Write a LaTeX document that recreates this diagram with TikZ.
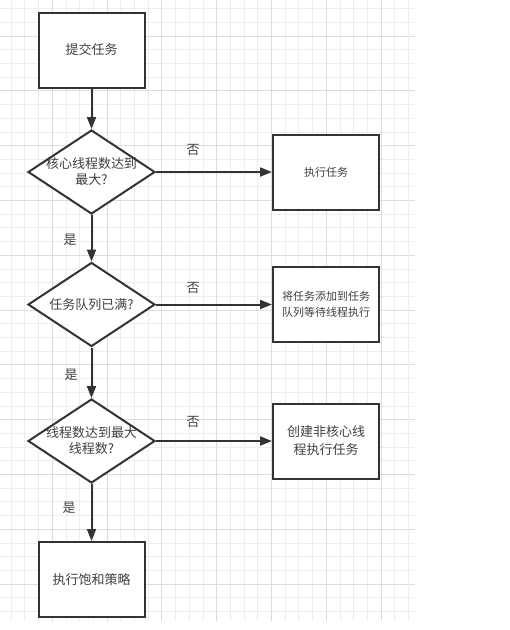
\documentclass[tikz,border=0pt]{standalone}
\usepackage{fontspec}
\setmainfont{Noto Sans CJK SC}
\usepackage{xcolor}
\usetikzlibrary{positioning,arrows.meta,shapes.geometric}
\definecolor{gridminor}{HTML}{EDEDED}
\definecolor{gridmajor}{HTML}{DCDCDC}
\definecolor{ink}{HTML}{333333}
\definecolor{inktext}{HTML}{404040}

\begin{document}
\begin{tikzpicture}[
    x=1pt, y=-1pt,
    >={Triangle[length=12pt, width=9pt]},
    box/.style={draw=ink, line width=2pt, fill=white, align=center, text=inktext,
                font=\fontsize{13}{17}\selectfont, minimum width=106pt, minimum height=75pt},
    smallbox/.style={box, font=\fontsize{11}{16}\selectfont},
    cond/.style={diamond, draw=ink, line width=2pt, fill=white, align=center, text=inktext,
                 font=\fontsize{13}{16}\selectfont, minimum width=127pt, minimum height=84pt,
                 inner xsep=-14pt, inner ysep=-8pt},
    lbl/.style={font=\fontsize{13}{15}\selectfont, text=inktext},
    flow/.style={->, draw=ink, line width=2pt},
  ]
  \useasboundingbox (0,0) rectangle (510,630);
  % fondo de cuadricula
  \foreach \i in {0,...,30} \draw[gridminor, line width=0.8pt] ({-2.6+13.7*\i},0) -- ++(0,621);
  \foreach \j in {0,...,44} \draw[gridminor, line width=0.8pt] (0,{8.6+13.7*\j}) -- ++(415,0);
  \foreach \i in {0,...,7} \draw[gridmajor, line width=1pt] ({-2.6+54.8*\i},0) -- ++(0,621);
  \foreach \j in {0,...,10} \draw[gridmajor, line width=1pt] (0,{36+54.8*\j}) -- ++(415,0);

  \node[box] (submit) at (91.5,50) {提交任务};
  \node[cond] (core) at (91.5,172) {核心线程数达到\\最大?};
  \node[cond] (queue) at (91.5,304.5) {任务队列已满?};
  \node[cond] (maxpool) at (91.5,441) {线程数达到最大\\线程数?};
  \node[box] (reject) at (91.5,579.5) {执行饱和策略};

  \node[smallbox] (runcore) at (326,172) {执行任务};
  \node[smallbox] (enqueue) at (326,304.5) {将任务添加到任务\\队列等待线程执行};
  \node[box, font=\fontsize{13}{18}\selectfont] (spawn) at (326,441) {创建非核心线\\程执行任务};

  \draw[flow] (submit) -- (core);
  \draw[flow] (core) -- (queue);
  \draw[flow] (queue) -- (maxpool);
  \draw[flow] (maxpool) -- (reject);
  \draw[flow] (core) -- (runcore);
  \draw[flow] (queue) -- (enqueue);
  \draw[flow] (maxpool) -- (spawn);

  % etiquetas de las ramas
  \node[lbl] (no1) at (193,150) {否};
  \node[lbl] (no2) at (193,288) {否};
  \node[lbl] (no3) at (193,422) {否};
  \node[lbl] (yes1) at (70,240) {是};
  \node[lbl] (yes2) at (71,375) {是};
  \node[lbl] (yes3) at (69,508) {是};
\end{tikzpicture}
\end{document}
